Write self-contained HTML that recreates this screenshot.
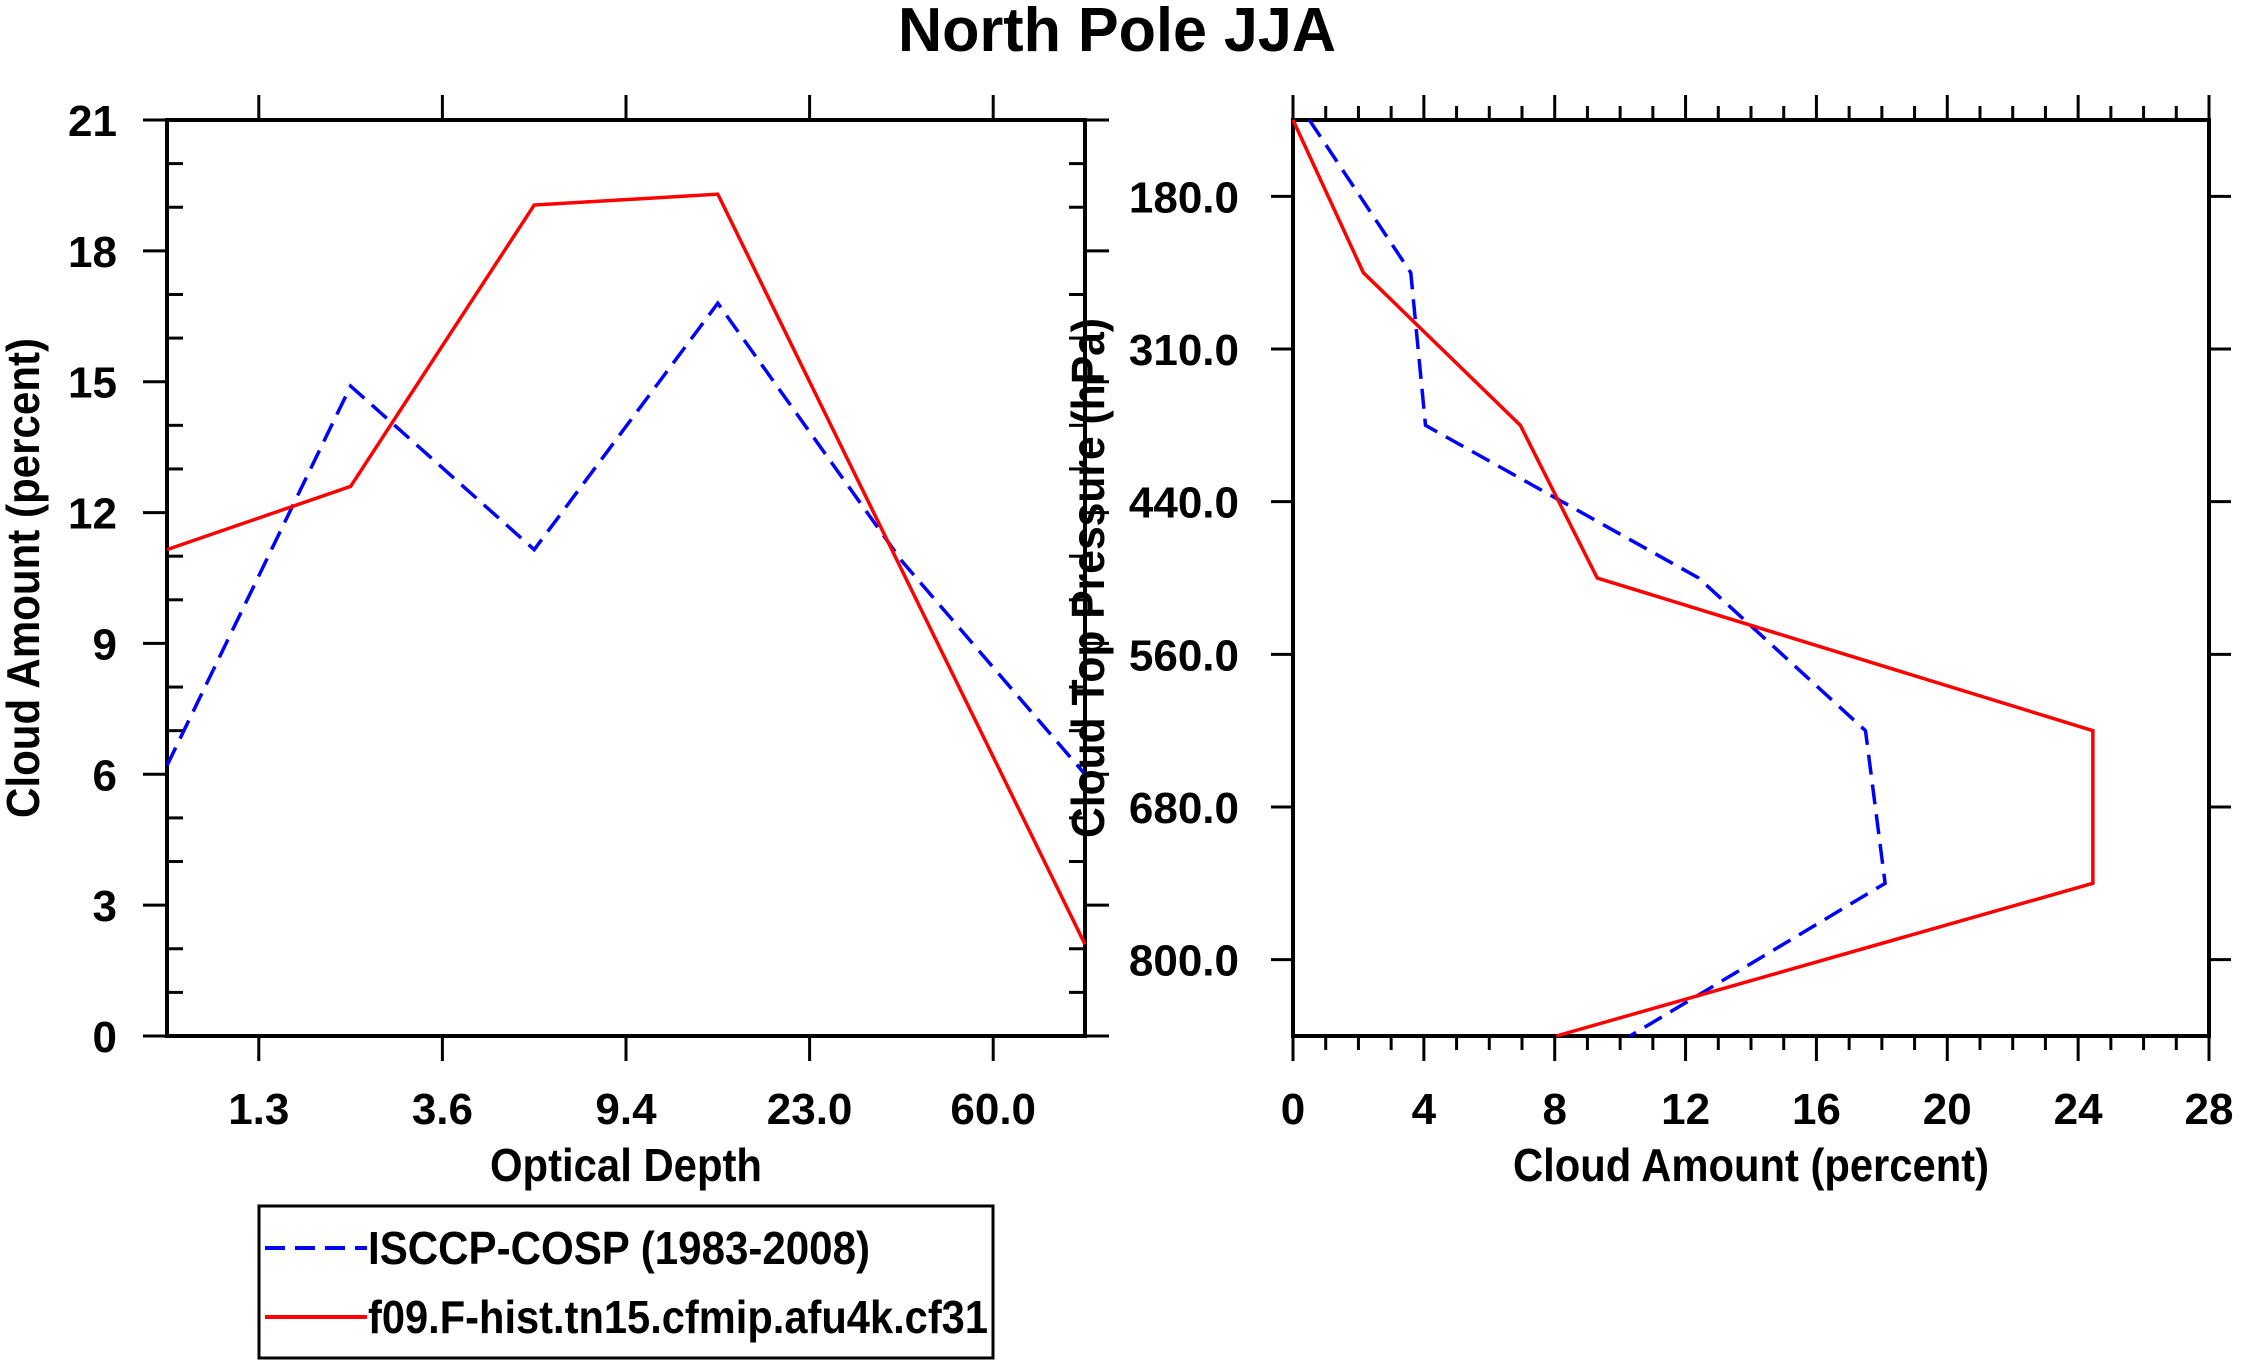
<!DOCTYPE html>
<html><head><meta charset="utf-8"><style>
html,body{margin:0;padding:0;background:#fff;}
svg{display:block;font-family:"Liberation Sans",sans-serif;font-weight:bold;}
</style></head><body>
<svg id="c" width="2241" height="1366" viewBox="0 0 2241 1366" xmlns="http://www.w3.org/2000/svg">
<text x="1117" y="51" font-size="62" text-anchor="middle" textLength="438" lengthAdjust="spacingAndGlyphs">North Pole JJA</text>
<g id="L"></g>
<g id="R"></g>
<g>
<rect x="259" y="1206" width="734" height="152" fill="none" stroke="#000" stroke-width="3"/>
<line x1="265" y1="1248" x2="367" y2="1248" stroke="#0000ff" stroke-width="4" stroke-dasharray="20,10"/>
<text x="368" y="1264" font-size="46" textLength="502" lengthAdjust="spacingAndGlyphs">ISCCP-COSP (1983-2008)</text>
<line x1="265" y1="1317" x2="367" y2="1317" stroke="#ff0000" stroke-width="4"/>
<text x="368" y="1333" font-size="46" textLength="620" lengthAdjust="spacingAndGlyphs">f09.F-hist.tn15.cfmip.afu4k.cf31</text>
</g>
</svg>
<script>
// Left panel data
const odLabels = ["1.3","3.6","9.4","23.0","60.0"];
const leftYTicks = [0,3,6,9,12,15,18,21];
const leftObs = [6.2,14.9,11.15,16.8,10.9,6.0];
const leftModel = [11.15,12.6,19.05,19.3,10.7,2.1];
// Right panel data
const pLabels = ["180.0","310.0","440.0","560.0","680.0","800.0"];
const rightXTicks = [0,4,8,12,16,20,24,28];
const rightObs = [0.5,3.6,4.05,12.4,17.5,18.1,10.3];
const rightModel = [0,2.15,6.95,9.3,24.45,24.45,8.05];

const NS="http://www.w3.org/2000/svg";
function mk(parent,tag,attrs,text){const e=document.createElementNS(NS,tag);for(const k in attrs)e.setAttribute(k,attrs[k]);if(text!==undefined)e.textContent=text;parent.appendChild(e);return e;}
const T=120,B=1036;
const TF=44;
// ---------- Left ----------
const L=document.getElementById('L');
const lx0=167,lx1=1085;
const lxs=i=>lx0+i*(lx1-lx0)/5;
const lys=v=>B-v*(B-T)/21;
let e;
e=mk(L,'rect',{x:lx0,y:T,width:lx1-lx0,height:B-T,fill:'none',stroke:'#000','stroke-width':4});


for(let v=0;v<=21;v++){
  const y=lys(v);const major=v%3===0;
  mk(L,'line',{x1:major?lx0-24:lx0,y1:y,x2:major?lx0:lx0+16,y2:y,stroke:'#000','stroke-width':3});
  mk(L,'line',{x1:lx1,y1:y,x2:major?lx1+24:lx1-16,y2:y,stroke:'#000','stroke-width':3});
}
leftYTicks.forEach(v=>{
  e=mk(L,'text',{x:117,y:lys(v)+16,'font-size':TF,'text-anchor':'end'},String(v));
  
  
});
odLabels.forEach((s,i)=>{
  const x=lxs(i+0.5);
  mk(L,'line',{x1:x,y1:B,x2:x,y2:B+25,stroke:'#000','stroke-width':3});
  mk(L,'line',{x1:x,y1:T,x2:x,y2:T-25,stroke:'#000','stroke-width':3});
  e=mk(L,'text',{x:x,y:1124,'font-size':TF,'text-anchor':'middle'},s);
  
  
});
e=mk(L,'text',{x:626,y:1181,'font-size':46,'text-anchor':'middle',textLength:272,lengthAdjust:'spacingAndGlyphs'},'Optical Depth');


e=mk(L,'text',{x:0,y:0,'font-size':46,'text-anchor':'middle',textLength:480,lengthAdjust:'spacingAndGlyphs',transform:'translate(39,578) rotate(-90)'},'Cloud Amount (percent)');


e=mk(L,'polyline',{points:leftObs.map((v,i)=>lxs(i)+','+lys(v)).join(' '),fill:'none',stroke:'#0000ff','stroke-width':3.5,'stroke-dasharray':'20,10'});


e=mk(L,'polyline',{points:leftModel.map((v,i)=>lxs(i)+','+lys(v)).join(' '),fill:'none',stroke:'#ff0000','stroke-width':3.5});


// ---------- Right ----------
const R=document.getElementById('R');
const rx0=1293,rx1=2209;
const rxs=v=>rx0+v*(rx1-rx0)/28;
const rys=i=>T+i*(B-T)/6;
e=mk(R,'rect',{x:rx0,y:T,width:rx1-rx0,height:B-T,fill:'none',stroke:'#000','stroke-width':4});


for(let v=0;v<=28;v++){
  const x=rxs(v);const major=v%4===0;const len=major?25:14;
  mk(R,'line',{x1:x,y1:B,x2:x,y2:B+len,stroke:'#000','stroke-width':3});
  mk(R,'line',{x1:x,y1:T,x2:x,y2:T-len,stroke:'#000','stroke-width':3});
}
rightXTicks.forEach(v=>{
  e=mk(R,'text',{x:rxs(v),y:1124,'font-size':TF,'text-anchor':'middle'},String(v));
  
  
});
pLabels.forEach((s,i)=>{
  const y=rys(i+0.5);
  mk(R,'line',{x1:rx0-22,y1:y,x2:rx0,y2:y,stroke:'#000','stroke-width':3});
  mk(R,'line',{x1:rx1,y1:y,x2:rx1+22,y2:y,stroke:'#000','stroke-width':3});
  e=mk(R,'text',{x:1239,y:y+16,'font-size':TF,'text-anchor':'end'},s);
  
  
});
e=mk(R,'text',{x:1751,y:1181,'font-size':46,'text-anchor':'middle',textLength:476,lengthAdjust:'spacingAndGlyphs'},'Cloud Amount (percent)');


e=mk(R,'text',{x:0,y:0,'font-size':46,'text-anchor':'middle',textLength:520,lengthAdjust:'spacingAndGlyphs',transform:'translate(1104,578) rotate(-90)'},'Cloud Top Pressure (hPa)');


e=mk(R,'polyline',{points:rightObs.map((v,i)=>rxs(v)+','+rys(i)).join(' '),fill:'none',stroke:'#0000ff','stroke-width':3.5,'stroke-dasharray':'20,10'});


e=mk(R,'polyline',{points:rightModel.map((v,i)=>rxs(v)+','+rys(i)).join(' '),fill:'none',stroke:'#ff0000','stroke-width':3.5});


</script>
</body></html>
